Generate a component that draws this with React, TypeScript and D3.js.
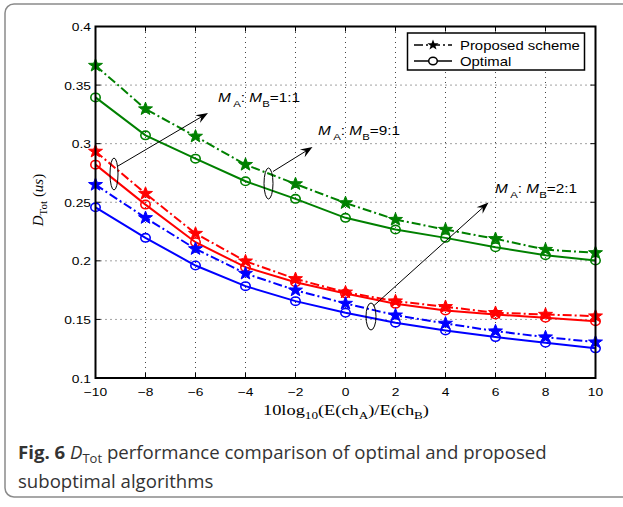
import React from 'react';
import * as d3 from 'd3';

const xValues = [-10, -8, -6, -4, -2, 0, 2, 4, 6, 8, 10];
const greenProposed = [0.3667, 0.3296, 0.3062, 0.2821, 0.2656, 0.2494, 0.2352, 0.2267, 0.2188, 0.2096, 0.2068];
const greenOptimal = [0.3395, 0.3071, 0.2872, 0.2679, 0.2529, 0.2367, 0.2267, 0.2196, 0.2116, 0.2048, 0.2003];
const redProposed = [0.2934, 0.2574, 0.2233, 0.1997, 0.1846, 0.1732, 0.1656, 0.1608, 0.1557, 0.1542, 0.1528];
const redOptimal = [0.2821, 0.2480, 0.2159, 0.1946, 0.1818, 0.1721, 0.1633, 0.1576, 0.1542, 0.1514, 0.1485];
const blueProposed = [0.2650, 0.2367, 0.2102, 0.1892, 0.1749, 0.1636, 0.1536, 0.1466, 0.1400, 0.1349, 0.1306];
const blueOptimal = [0.2457, 0.2196, 0.1960, 0.1784, 0.1656, 0.1557, 0.1472, 0.1406, 0.1349, 0.1301, 0.1253];
const xTicks = [-10, -8, -6, -4, -2, 0, 2, 4, 6, 8, 10];
const yTicks = [0.1, 0.15, 0.2, 0.25, 0.3, 0.35, 0.4];
const yTickLabels = ['0.1', '0.15', '0.2', '0.25', '0.3', '0.35', '0.4'];
const legendLabels = ['Proposed scheme', 'Optimal'];

const GREEN = '#008000';
const RED = '#ff0000';
const BLUE = '#0000ff';

const series = [
  { values: greenProposed, color: GREEN, kind: 'proposed' },
  { values: greenOptimal, color: GREEN, kind: 'optimal' },
  { values: redProposed, color: RED, kind: 'proposed' },
  { values: redOptimal, color: RED, kind: 'optimal' },
  { values: blueProposed, color: BLUE, kind: 'proposed' },
  { values: blueOptimal, color: BLUE, kind: 'optimal' },
];

// horizontal stretch of the original MATLAB figure
const SX = 1.2;

function starPath(R: number, r: number) {
  const pts: string[] = [];
  for (let i = 0; i < 10; i++) {
    const a = -Math.PI / 2 + (i * Math.PI) / 5;
    const rad = i % 2 === 0 ? R : r;
    pts.push(`${(rad * Math.cos(a) * 1.08).toFixed(2)},${(rad * Math.sin(a)).toFixed(2)}`);
  }
  return 'M' + pts.join('L') + 'Z';
}

const DASHDOT = '9,3,2,3';
const SANS = 'Liberation Sans, Arial, Helvetica, sans-serif';
const SERIF = 'Liberation Serif, Times New Roman, serif';

function Arrow({ x1, y1, x2, y2 }: { x1: number; y1: number; x2: number; y2: number }) {
  const a = Math.atan2(y2 - y1, x2 - x1);
  const ang = (a * 180) / Math.PI;
  const L = 12;
  const Wd = 9;
  return (
    <g>
      <line x1={x1} y1={y1} x2={x2 - L * 0.6 * Math.cos(a)} y2={y2 - L * 0.6 * Math.sin(a)} stroke="#000" strokeWidth={1} />
      <path
        transform={`translate(${x2},${y2}) rotate(${ang})`}
        d={`M0,0L${-L},${-Wd / 2}L${-L * 0.65},0L${-L},${Wd / 2}Z`}
        fill="#000"
      />
    </g>
  );
}

function SText({ x, y, anchor, size, children, family }: any) {
  return (
    <g transform={`translate(${x},${y}) scale(${SX},1)`}>
      <text x={0} y={0} textAnchor={anchor || 'start'} fontFamily={family || SANS} fontSize={size} fill="#000">
        {children}
      </text>
    </g>
  );
}

function RatioLabel({ x, y, ratio }: { x: number; y: number; ratio: string }) {
  return (
    <SText x={x} y={y} size={12.8}>
      <tspan fontStyle="italic">M</tspan>
      <tspan dx={2} dy={5} fontSize={9.5}>A</tspan>
      <tspan dy={-5}>: </tspan>
      <tspan fontStyle="italic">M</tspan>
      <tspan dy={5} fontSize={9.5}>B</tspan>
      <tspan dy={-5}>={ratio}</tspan>
    </SText>
  );
}

export default function App() {
  const W = 623;
  const H = 507;
  const x = d3.scaleLinear().domain([-10, 10]).range([95.5, 595.5]);
  const y = d3.scaleLinear().domain([0.1, 0.4]).range([378, 26.5]);
  const line = d3
    .line<number>()
    .x((_, i) => x(xValues[i]))
    .y((d) => y(d));
  const star = starPath(6.8, 2.8);
  const [x0, x1] = x.range();
  const [y0, y1] = y.range();

  return (
    <svg width={W} height={H} style={{ position: 'absolute', left: 0, top: 0, background: '#fff' }}>
      <rect x={5} y={4} width={660} height={493} rx={9} fill="#fff" stroke="#8a8a8a" strokeWidth={1.5} />

      {/* grid */}
      <g stroke="#444" strokeWidth={1} strokeDasharray="1,4">
        {xTicks.slice(1, -1).map((t) => (
          <line key={'gx' + t} x1={x(t)} x2={x(t)} y1={y0} y2={y1} />
        ))}
        {yTicks.slice(1, -1).map((t) => (
          <line key={'gy' + t} x1={x0} x2={x1} y1={y(t)} y2={y(t)} />
        ))}
      </g>
      {/* ticks */}
      <g stroke="#000" strokeWidth={1}>
        {xTicks.map((t) => (
          <g key={'tx' + t}>
            <line x1={x(t)} x2={x(t)} y1={y0} y2={y0 - 5} />
            <line x1={x(t)} x2={x(t)} y1={y1} y2={y1 + 5} />
          </g>
        ))}
        {yTicks.map((t) => (
          <g key={'ty' + t}>
            <line x1={x0} x2={x0 + 5} y1={y(t)} y2={y(t)} />
            <line x1={x1} x2={x1 - 5} y1={y(t)} y2={y(t)} />
          </g>
        ))}
      </g>

      {/* series */}
      {series.map((s, si) => (
        <g key={'s' + si}>
          <path
            d={line(s.values) || ''}
            fill="none"
            stroke={s.color}
            strokeWidth={2}
            strokeDasharray={s.kind === 'proposed' ? DASHDOT : undefined}
          />
          {s.values.map((v, i) =>
            s.kind === 'proposed' ? (
              <path key={i} d={star} transform={`translate(${x(xValues[i])},${y(v)})`} fill={s.color} stroke={s.color} strokeWidth={1} />
            ) : (
              <ellipse key={i} cx={x(xValues[i])} cy={y(v)} rx={4.7} ry={4.2} fill="none" stroke={s.color} strokeWidth={1.6} />
            )
          )}
        </g>
      ))}

      {/* axes box */}
      <rect x={x0} y={y1} width={x1 - x0} height={y0 - y1} fill="none" stroke="#000" strokeWidth={2} />

      {/* tick labels */}
      {xTicks.map((t) => (
        <SText key={'lx' + t} x={x(t)} y={395.5} anchor="middle" size={11.5}>
          {t < 0 ? '\u2212' + Math.abs(t) : String(t)}
        </SText>
      ))}
      {yTicks.map((t, i) => (
        <SText key={'ly' + t} x={91} y={y(t) + 4.5} anchor="end" size={11.5}>
          {yTickLabels[i]}
        </SText>
      ))}

      {/* axis labels */}
      <SText x={346} y={415} anchor="middle" size={15.3} family={SERIF}>
        10log<tspan dy={4} fontSize={11}>10</tspan>
        <tspan dy={-4}>(E(ch</tspan>
        <tspan dy={4} fontSize={11}>A</tspan>
        <tspan dy={-4}>)/E(ch</tspan>
        <tspan dy={4} fontSize={11}>B</tspan>
        <tspan dy={-4}>)</tspan>
      </SText>
      <text transform="translate(43,200) rotate(-90)" textAnchor="middle" fontFamily={SERIF} fontSize={15} fill="#000">
        <tspan fontStyle="italic">D</tspan>
        <tspan dy={4} fontSize={11}>Tot</tspan>
        <tspan dy={-4}> (</tspan>
        <tspan fontStyle="italic">us</tspan>
        <tspan>)</tspan>
      </text>

      {/* legend */}
      <g>
        <rect x={407.5} y={33} width={177} height={37} fill="#fff" stroke="#000" strokeWidth={1.5} />
        <line x1={414} x2={452} y1={45} y2={45} stroke="#000" strokeWidth={1.5} strokeDasharray={DASHDOT} />
        <path d={starPath(5.5, 2.3)} transform="translate(433,45)" fill="#000" />
        <line x1={414} x2={452} y1={61} y2={61} stroke="#000" strokeWidth={1.5} />
        <ellipse cx={433} cy={61} rx={4.3} ry={3.8} fill="#fff" stroke="#000" strokeWidth={1.5} />
        <SText x={460} y={50} size={12.4}>{legendLabels[0]}</SText>
        <SText x={460} y={66} size={12.4}>{legendLabels[1]}</SText>
      </g>

      {/* annotations */}
      <g fill="none" stroke="#000" strokeWidth={1}>
        <ellipse cx={114} cy={174} rx={4} ry={16} />
        <ellipse cx={268.5} cy={183.5} rx={4.5} ry={15.5} />
        <ellipse cx={371} cy={316.5} rx={5} ry={13.5} />
      </g>
      <Arrow x1={118} y1={166} x2={208} y2={113} />
      <Arrow x1={273} y1={171.5} x2={312.5} y2={147} />
      <Arrow x1={373.5} y1={306} x2={488.5} y2={202.5} />
      <RatioLabel x={218} y={102} ratio="1:1" />
      <RatioLabel x={318} y={135} ratio="9:1" />
      <RatioLabel x={495} y={193} ratio="2:1" />

      {/* caption */}
      <text x={18} y={459} fontFamily="Open Sans, Noto Sans, sans-serif" fontSize={18.6} fill="#333">
        <tspan fontWeight="bold">Fig. 6</tspan>
        <tspan> </tspan>
        <tspan fontStyle="italic">D</tspan>
        <tspan dy={4} fontSize={13}>Tot</tspan>
        <tspan dy={-4}> performance comparison of optimal and proposed</tspan>
      </text>
      <text x={18} y={488} fontFamily="Open Sans, Noto Sans, sans-serif" fontSize={18.6} fill="#333">
        suboptimal algorithms
      </text>
    </svg>
  );
}
